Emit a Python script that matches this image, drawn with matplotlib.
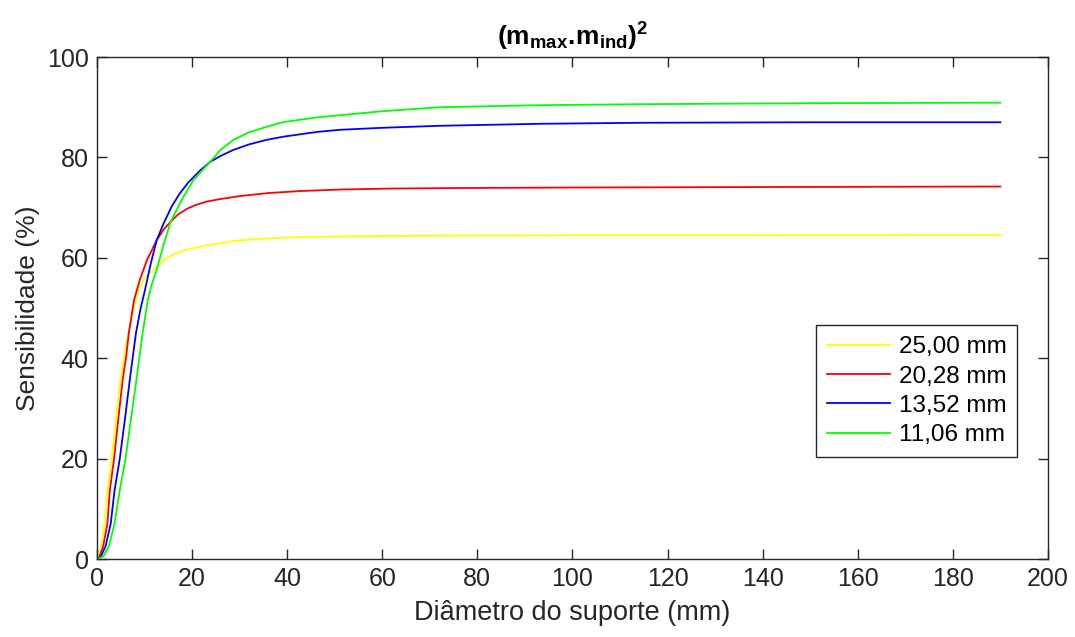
import matplotlib
matplotlib.use("Agg")
import matplotlib.pyplot as plt

# Sensitivity curves vs. support diameter, one per indenter size
labels = ["25,00 mm", "20,28 mm", "13,52 mm", "11,06 mm"]
colors = ["#FFFF00", "#FF0000", "#0000FF", "#00FF00"]

x_25 = [0, 0.4, 0.9, 1.6, 2.2, 3.1, 4.0, 4.9, 5.7, 6.6, 8.1, 9.0, 10.5, 12.55,
        14.0, 16.0, 18.0, 20.0, 23.1, 26.5, 30.1, 35.0, 39.2, 46.0, 53.2, 63.0,
        75, 100, 140, 190]
y_25 = [0, 0.4, 2.5, 7.1, 13.7, 20, 28, 35.7, 40, 45, 51.6, 54.2, 56.5, 58.1,
        59.5, 60.6, 61.4, 61.9, 62.5, 63.0, 63.5, 63.8, 64.0, 64.2, 64.3, 64.35,
        64.4, 64.5, 64.5, 64.6]

x_20 = [0, 0.5, 1.3, 2.2, 2.7, 3.6, 4.5, 5.4, 6.1, 6.7, 7.8, 9.0, 10.5, 12.55,
        14.0, 15.5, 17.0, 19.0, 21.0, 23.1, 25.9, 30.1, 36.0, 42.7, 51.1, 62.0,
        75, 100, 140, 190]
y_20 = [0, 0.4, 2.5, 7.1, 13.7, 20, 28, 35.7, 40, 45, 51.6, 55.6, 59.5, 63.5,
        65.6, 67.2, 68.6, 69.8, 70.6, 71.2, 71.7, 72.3, 72.9, 73.3, 73.6, 73.8,
        73.9, 74.0, 74.1, 74.2]

x_13 = [0, 0.8, 1.8, 2.9, 3.7, 4.8, 5.9, 6.9, 7.5, 8.2, 9.2, 10.1, 11.3, 12.55,
        14.0, 15.7, 17.4, 19.2, 21.7, 23.8, 26.0, 28.7, 32.0, 35.7, 39.0, 42.7,
        46.5, 51.1, 60.0, 72.1, 93.2, 114.2, 150, 190]
y_13 = [0, 0.5, 2.5, 7.1, 13.7, 20, 28, 35.7, 40, 45, 50.0, 53.6, 58.8, 63.5,
        66.8, 70.2, 72.8, 75.0, 77.4, 79.1, 80.3, 81.5, 82.6, 83.5, 84.1, 84.6,
        85.1, 85.5, 85.9, 86.3, 86.7, 86.9, 87.0, 87.0]

x_11 = [0, 1.3, 2.5, 3.7, 4.8, 6.0, 7.2, 8.3, 8.9, 9.6, 10.7, 11.4, 12.55, 14.0,
        15.5, 17.8, 20.3, 23.8, 26.0, 28.7, 32.0, 35.7, 39.0, 42.7, 46.5, 51.1,
        60.0, 72.1, 93.2, 114.2, 150, 190]
y_11 = [0, 0.5, 2.5, 7.1, 13.7, 20, 28.2, 35.7, 40, 45, 51.6, 54.3, 57.6, 62.6,
        67.2, 71.5, 75.5, 79.1, 81.5, 83.5, 85.0, 86.1, 87.0, 87.5, 88.0, 88.4,
        89.2, 90.0, 90.4, 90.6, 90.8, 90.9]

series_x = [x_25, x_20, x_13, x_11]
series_y = [y_25, y_20, y_13, y_11]

x_ticks = [0, 20, 40, 60, 80, 100, 120, 140, 160, 180, 200]
y_ticks = [0, 20, 40, 60, 80, 100]

plt.rcParams["font.family"] = ["Liberation Sans", "DejaVu Sans"]
plt.rcParams["mathtext.fontset"] = "custom"
plt.rcParams["mathtext.rm"] = "Liberation Sans"
plt.rcParams["mathtext.bf"] = "Liberation Sans:bold"

axis_color = "#262626"

fig = plt.figure(figsize=(10.75, 6.37), dpi=100)
ax = fig.add_axes([0.0902, 0.1224, 0.8846, 0.7881])

for xs, ys, c, lab in zip(series_x, series_y, colors, labels):
    ax.plot(xs, ys, color=c, lw=1.3, label=lab)

ax.set_xlim(0, 200)
ax.set_ylim(0, 100)
ax.set_xticks(x_ticks)
ax.set_yticks(y_ticks)

for s in ax.spines.values():
    s.set_color(axis_color)
    s.set_linewidth(1.0)
ax.tick_params(direction="in", length=7, width=1.0, top=True, right=True,
               colors=axis_color, labelsize=18, pad=6)

ax.set_xlabel("Diâmetro do suporte (mm)", fontsize=19.5, color=axis_color, labelpad=6)
ax.set_ylabel("Sensibilidade (%)", fontsize=19, color=axis_color, labelpad=5)
ax.set_title(r"$\mathbf{(m_{max}.\!m_{ind})^2}$", fontsize=19, color="black", pad=8)

leg = ax.legend(loc="lower right", bbox_to_anchor=(0.968, 0.203), fontsize=17.5,
                frameon=True, fancybox=False, framealpha=1, edgecolor=axis_color,
                handlelength=2.6, handletextpad=0.35, borderpad=0.45,
                labelspacing=0.3, borderaxespad=0)
leg.get_frame().set_linewidth(1.0)

fig.savefig("out.png", dpi=100)
